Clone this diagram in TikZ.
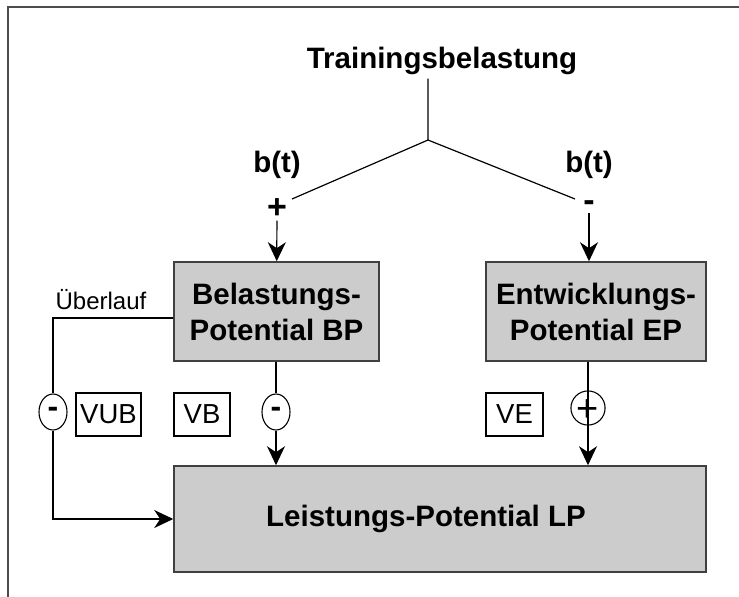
\documentclass[tikz,border=0pt]{standalone}
\usepackage{fontspec}
\setmainfont{Liberation Sans}
\usetikzlibrary{arrows.meta,shapes.geometric}

\begin{document}
\begin{tikzpicture}[x=1pt,y=-1pt,line width=1.2pt,
        >={Stealth[length=19pt,width=18pt,inset=6pt]},
        potbox/.style={shape=rectangle,draw=black!75,line width=1.6pt,fill=black!20,align=center,font=\fontsize{29.5}{36}\selectfont\bfseries},
        vbox/.style={shape=rectangle,draw=black,line width=1.1pt,font=\fontsize{27.5}{30}\selectfont},
        lbl/.style={font=\fontsize{29.5}{30}\selectfont\bfseries},
        sgn/.style={draw=black,fill=white,line width=1.1pt,inner sep=0pt}]
        \useasboundingbox (0,0) rectangle (739,597);
        \draw[line width=2pt,black!70] (739,7) -- (8,7) -- (8,597);

        \node[lbl] (tb) at (442,61) {Trainingsbelastung};
        \node[lbl] (bl) at (277,165) {b(t)};
        \node[lbl] (br) at (589,165) {b(t)};
        \node[lbl,inner sep=1pt,font=\fontsize{34}{34}\selectfont\bfseries] (pl) at (277,209) {+};
        \node[lbl,inner sep=1pt,font=\fontsize{34}{34}\selectfont\bfseries] (mr) at (589,206) {-};
        \coordinate (j) at (428,140);
        \coordinate (l) at (292,199);
        \coordinate (r) at (575,199);

        \node[potbox,minimum width=205pt,minimum height=99pt] (bp) at (276.5,311.5) {Belastungs-\\Potential BP};
        \node[potbox,minimum width=220pt,minimum height=99pt] (ep) at (596,311.5) {Entwicklungs-\\Potential EP};
        \node[potbox,minimum width=532pt,minimum height=106pt] (lp) at (440,519) {};
        \node[lbl] (lpt) at (426,519) {Leistungs-Potential LP};

        \node[font=\fontsize{24}{26}\selectfont] (ov) at (101,300) {Überlauf};
        \node[vbox,minimum width=65pt,minimum height=43pt] (vub) at (108.5,414.5) {VUB};
        \node[vbox,minimum width=56pt,minimum height=43pt] (vb) at (202,414.5) {VB};
        \node[vbox,minimum width=57pt,minimum height=43pt] (ve) at (514.5,414.5) {VE};

        % Trainingsbelastung splits into both potentials
        \draw (tb.south -| j) -- (j) -- (l);
        \draw (j) -- (r);
        \draw[->] (pl) -- (bp);
        \draw[->] (mr.south) -- (mr.south |- ep.north);

        % outputs into LP
        \node[sgn,ellipse,minimum width=28pt,minimum height=36pt,font=\fontsize{32}{32}\selectfont\bfseries] (m1) at (53,412) {-};
        \node[sgn,ellipse,minimum width=28pt,minimum height=36pt,font=\fontsize{32}{32}\selectfont\bfseries] (m2) at (276,412) {-};
        \draw ([yshift=-6.5pt]bp.west) -| (m1);
        \draw[->] (m1) |- (lp);
        \draw (bp.south -| m2) -- (m2);
        \draw[->] (m2) -- (m2 |- lp.north);
        \draw[->] (ep.south -| 588,0) -- (588,408) -- (588,0 |- lp.north);
        \node[sgn,fill=none,circle,minimum size=28pt,text height=26pt,text depth=0pt,font=\fontsize{38}{38}\selectfont] (p3) at (588,408) {+};
\end{tikzpicture}
\end{document}
